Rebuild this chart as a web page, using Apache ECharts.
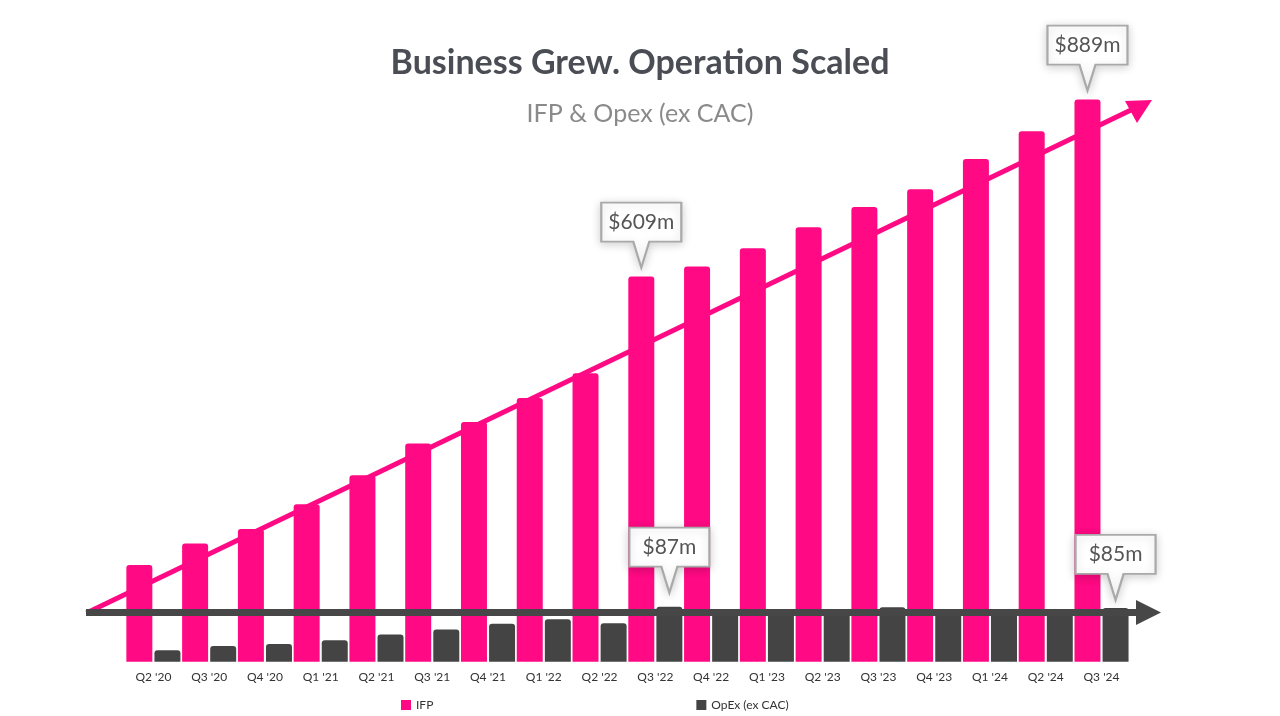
<!DOCTYPE html>
<html>
<head>
<meta charset="utf-8">
<script src="https://cdn.jsdelivr.net/npm/echarts@6/dist/echarts.min.js"></script>
<style>
html,body{margin:0;padding:0;background:#fff;}
#chart{width:1280px;height:716px;}
</style>
</head>
<body>
<div id="chart"></div>
<script>
const categories = ["Q2 '20","Q3 '20","Q4 '20","Q1 '21","Q2 '21","Q3 '21","Q4 '21","Q1 '22","Q2 '22","Q3 '22","Q4 '22","Q1 '23","Q2 '23","Q3 '23","Q4 '23","Q1 '24","Q2 '24","Q3 '24"];
const ifp = [153,187,210,249,295,345,379,417,456,609,625,654,687,719,747,795,839,889];
const opex = [18,25,28,34,43,51,60,67,61,87,80,79,80,86,82,81,82,85];
const ifpCallouts = [9, 17];
const opexCallouts = [9, 17];
const opexCalloutGaps = [14, 8];

const PINK = '#ff0a84';
const DARK = '#444444';
const FONT = 'Lato, "Open Sans", sans-serif';

const calloutPath = 'path://M0,0 L80,0 L80,39 L48,39 L40,65 L32,39 L0,39 Z';
function callout(idx, values, gap) {
  return {
    coord: [categories[idx], values[idx]],
    value: values[idx],
    symbol: calloutPath,
    symbolSize: [80, 65],
    symbolOffset: [0, -(32.5 + gap)],
    itemStyle: {color: '#ffffff', borderColor: '#a9a9a9', borderWidth: 2,
      shadowBlur: 10, shadowColor: 'rgba(0,0,0,0.18)', shadowOffsetY: 2},
    label: {show: true, position: 'inside', offset: [0, -13],
      formatter: '$' + values[idx] + 'm', color: '#555', fontSize: 21, fontFamily: FONT}
  };
}

const chart = echarts.init(document.getElementById('chart'), null, {renderer: 'canvas'});
chart.setOption({
  animation: false,
  backgroundColor: '#ffffff',
  title: [
    {text: 'Business Grew. Operation Scaled', left: 'center', top: 38,
     textStyle: {fontFamily: FONT, fontSize: 34, fontWeight: 'bold', color: '#4a4e54', lineHeight: 40}},
    {text: 'IFP & Opex (ex CAC)', left: 'center', top: 94,
     textStyle: {fontFamily: FONT, fontSize: 25, fontWeight: 'normal', color: '#8a8a8a', lineHeight: 30}}
  ],
  legend: {
    data: ['IFP', 'OpEx (ex CAC)'],
    left: 396, top: 694,
    icon: 'rect', itemWidth: 10, itemHeight: 10, itemGap: 263,
    textStyle: {fontFamily: FONT, fontSize: 12, color: '#333'}
  },
  grid: {left: 125.5, right: 150.6, top: 92.6, bottom: 54.3, containLabel: false},
  xAxis: {
    type: 'category', data: categories,
    axisLine: {show: false}, axisTick: {show: false},
    axisLabel: {margin: 9, fontFamily: FONT, fontSize: 12, color: '#333'}
  },
  yAxis: {type: 'value', min: 0, max: 900, show: false, splitLine: {show: false}},
  series: [
    {name: 'IFP', type: 'bar', data: ifp, barWidth: 26, barGap: '8%',
     itemStyle: {color: PINK, borderRadius: [3, 3, 0, 0]},
     markPoint: {data: ifpCallouts.map(i => callout(i, ifp, 9))}},
    {name: 'OpEx (ex CAC)', type: 'bar', data: opex, barWidth: 26, barGap: '8%',
     itemStyle: {color: DARK, borderRadius: [3, 3, 0, 0]},
     markPoint: {data: opexCallouts.map((i, k) => callout(i, opex, opexCalloutGaps[k]))}}
  ],
  graphic: [
    {type: 'line', z: 50, shape: {x1: 86.5, y1: 613, x2: 1132, y2: 109.6},
     style: {stroke: PINK, lineWidth: 5}},
    {type: 'polygon', z: 50, shape: {points: [[1152, 100], [1125, 101], [1137, 123]]},
     style: {fill: PINK}},
    {type: 'line', z: 51, shape: {x1: 86, y1: 612.5, x2: 1140, y2: 612.5},
     style: {stroke: '#474747', lineWidth: 7}},
    {type: 'polygon', z: 51, shape: {points: [[1136, 600], [1161, 612.5], [1136, 625]]},
     style: {fill: '#474747'}}
  ]
});
</script>
</body>
</html>
